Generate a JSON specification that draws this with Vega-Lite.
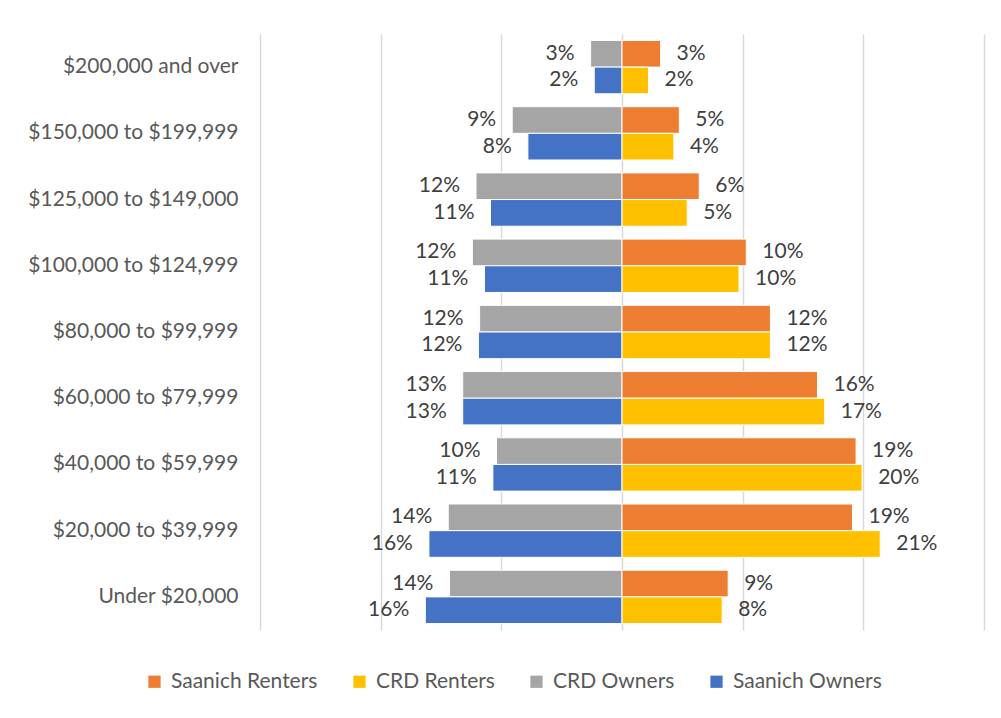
{
  "$schema": "https://vega.github.io/schema/vega-lite/v6.json",
  "width": 724,
  "height": 596,
  "autosize": "none",
  "padding": {"left": 260, "top": 34, "right": 17, "bottom": 88},
  "background": "white",
  "config": {
    "view": {"stroke": null},
    "font": "Lato",
    "text": {"font": "Lato"}
  },
  "data": {
    "values": [
      {"income": "$200,000 and over", "series": "CRD Owners", "row": "upper", "v": -2.6, "label": "3%"},
      {"income": "$200,000 and over", "series": "Saanich Owners", "row": "lower", "v": -2.3, "label": "2%"},
      {"income": "$200,000 and over", "series": "Saanich Renters", "row": "upper", "v": 3.2, "label": "3%"},
      {"income": "$200,000 and over", "series": "CRD Renters", "row": "lower", "v": 2.2, "label": "2%"},
      {"income": "$150,000 to $199,999", "series": "CRD Owners", "row": "upper", "v": -9.1, "label": "9%"},
      {"income": "$150,000 to $199,999", "series": "Saanich Owners", "row": "lower", "v": -7.8, "label": "8%"},
      {"income": "$150,000 to $199,999", "series": "Saanich Renters", "row": "upper", "v": 4.75, "label": "5%"},
      {"income": "$150,000 to $199,999", "series": "CRD Renters", "row": "lower", "v": 4.3, "label": "4%"},
      {"income": "$125,000 to $149,000", "series": "CRD Owners", "row": "upper", "v": -12.1, "label": "12%"},
      {"income": "$125,000 to $149,000", "series": "Saanich Owners", "row": "lower", "v": -10.9, "label": "11%"},
      {"income": "$125,000 to $149,000", "series": "Saanich Renters", "row": "upper", "v": 6.4, "label": "6%"},
      {"income": "$125,000 to $149,000", "series": "CRD Renters", "row": "lower", "v": 5.4, "label": "5%"},
      {"income": "$100,000 to $124,999", "series": "CRD Owners", "row": "upper", "v": -12.4, "label": "12%"},
      {"income": "$100,000 to $124,999", "series": "Saanich Owners", "row": "lower", "v": -11.4, "label": "11%"},
      {"income": "$100,000 to $124,999", "series": "Saanich Renters", "row": "upper", "v": 10.3, "label": "10%"},
      {"income": "$100,000 to $124,999", "series": "CRD Renters", "row": "lower", "v": 9.7, "label": "10%"},
      {"income": "$80,000 to $99,999", "series": "CRD Owners", "row": "upper", "v": -11.8, "label": "12%"},
      {"income": "$80,000 to $99,999", "series": "Saanich Owners", "row": "lower", "v": -11.9, "label": "12%"},
      {"income": "$80,000 to $99,999", "series": "Saanich Renters", "row": "upper", "v": 12.3, "label": "12%"},
      {"income": "$80,000 to $99,999", "series": "CRD Renters", "row": "lower", "v": 12.3, "label": "12%"},
      {"income": "$60,000 to $79,999", "series": "CRD Owners", "row": "upper", "v": -13.2, "label": "13%"},
      {"income": "$60,000 to $79,999", "series": "Saanich Owners", "row": "lower", "v": -13.2, "label": "13%"},
      {"income": "$60,000 to $79,999", "series": "Saanich Renters", "row": "upper", "v": 16.2, "label": "16%"},
      {"income": "$60,000 to $79,999", "series": "CRD Renters", "row": "lower", "v": 16.8, "label": "17%"},
      {"income": "$40,000 to $59,999", "series": "CRD Owners", "row": "upper", "v": -10.4, "label": "10%"},
      {"income": "$40,000 to $59,999", "series": "Saanich Owners", "row": "lower", "v": -10.7, "label": "11%"},
      {"income": "$40,000 to $59,999", "series": "Saanich Renters", "row": "upper", "v": 19.4, "label": "19%"},
      {"income": "$40,000 to $59,999", "series": "CRD Renters", "row": "lower", "v": 19.9, "label": "20%"},
      {"income": "$20,000 to $39,999", "series": "CRD Owners", "row": "upper", "v": -14.4, "label": "14%"},
      {"income": "$20,000 to $39,999", "series": "Saanich Owners", "row": "lower", "v": -16.0, "label": "16%"},
      {"income": "$20,000 to $39,999", "series": "Saanich Renters", "row": "upper", "v": 19.1, "label": "19%"},
      {"income": "$20,000 to $39,999", "series": "CRD Renters", "row": "lower", "v": 21.4, "label": "21%"},
      {"income": "Under $20,000", "series": "CRD Owners", "row": "upper", "v": -14.3, "label": "14%"},
      {"income": "Under $20,000", "series": "Saanich Owners", "row": "lower", "v": -16.3, "label": "16%"},
      {"income": "Under $20,000", "series": "Saanich Renters", "row": "upper", "v": 8.8, "label": "9%"},
      {"income": "Under $20,000", "series": "CRD Renters", "row": "lower", "v": 8.3, "label": "8%"}
    ]
  },
  "encoding": {
    "y": {
      "field": "income",
      "type": "nominal",
      "sort": null,
      "scale": {"paddingInner": 0.195, "paddingOuter": 0.0975},
      "axis": {
        "title": null,
        "domain": false,
        "ticks": false,
        "labelPadding": 22,
        "labelFontSize": 21,
        "labelColor": "#595959",
        "labelFont": "Lato",
        "labelLimit": 400
      }
    },
    "yOffset": {
      "field": "row",
      "type": "nominal",
      "scale": {"domain": ["upper", "lower"], "paddingInner": 0, "paddingOuter": 0}
    },
    "x": {
      "field": "v",
      "type": "quantitative",
      "scale": {"domain": [-30, 30], "nice": false, "zero": false},
      "axis": {
        "title": null,
        "labels": false,
        "ticks": false,
        "domain": false,
        "grid": true,
        "values": [-30, -20, -10, 0, 10, 20, 30],
        "gridColor": "#d9d9d9",
        "gridWidth": 1.5
      }
    }
  },
  "layer": [
    {
      "mark": {"type": "bar", "stroke": "white", "strokeWidth": 1},
      "encoding": {
        "color": {
          "field": "series",
          "type": "nominal",
          "scale": {
            "domain": ["Saanich Renters", "CRD Renters", "CRD Owners", "Saanich Owners"],
            "range": ["#ED7D31", "#FFC000", "#A5A5A5", "#4472C4"]
          },
          "legend": {
            "title": null,
            "orient": "none",
            "direction": "horizontal",
            "legendX": -116,
            "legendY": 637,
            "symbolType": "square",
            "symbolSize": 150,
            "symbolStrokeWidth": 0,
            "labelFontSize": 21,
            "labelFont": "Lato",
            "labelColor": "#595959",
            "labelOffset": 6,
            "columnPadding": 31,
            "labelLimit": 300
          }
        }
      }
    },
    {
      "transform": [{"filter": "datum.v < 0"}],
      "mark": {"type": "text", "align": "right", "baseline": "middle", "dx": -16, "fontSize": 21, "color": "#404040", "font": "Lato"},
      "encoding": {"text": {"field": "label"}}
    },
    {
      "transform": [{"filter": "datum.v > 0"}],
      "mark": {"type": "text", "align": "left", "baseline": "middle", "dx": 16, "fontSize": 21, "color": "#404040", "font": "Lato"},
      "encoding": {"text": {"field": "label"}}
    }
  ]
}
